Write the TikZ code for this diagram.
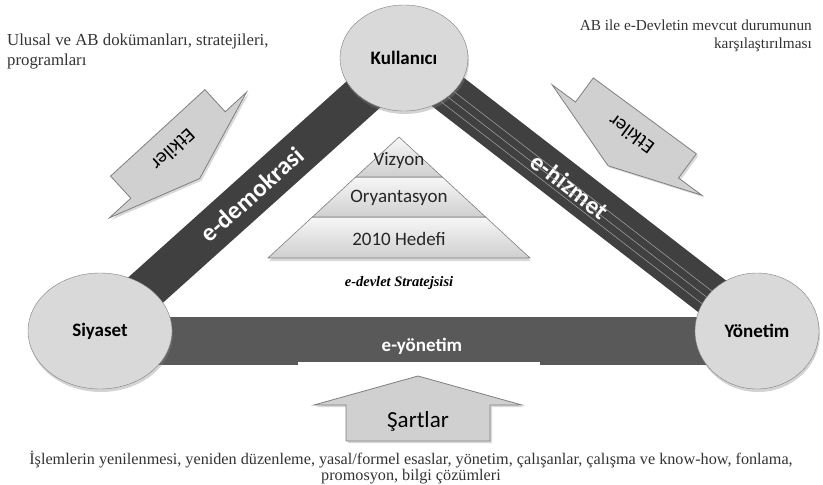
\documentclass[tikz,border=0pt]{standalone}
\usepackage{fontspec}
\setmainfont{Liberation Serif}
\newfontfamily\calibri{Carlito}
\usetikzlibrary{%
  backgrounds,
  calc,
  shadows,
  shapes.geometric
}
\definecolor{elipsgri}{HTML}{D9D9D9}
\definecolor{kenargri}{HTML}{7F7F7F}
\definecolor{koyugri}{HTML}{404040}
\definecolor{ortagri}{HTML}{595959}
\definecolor{okgri}{HTML}{D0D0D0}

\tikzset{
  elips/.style={ellipse, draw=kenargri, fill=elipsgri, inner sep=0pt,
    font=\calibri\bfseries\fontsize{19}{21}\selectfont,
    drop shadow={opacity=0.35, shadow xshift=1pt, shadow yshift=-3pt}},
  serit/.style={line width=42pt, draw=koyugri},
  seritYazi/.style={text=white, inner sep=0pt,
    font=\calibri\bfseries\fontsize{25}{28}\selectfont},
  okstil/.style={fill=okgri, draw=kenargri, line width=0.8pt,
    drop shadow={opacity=0.3, shadow xshift=2pt, shadow yshift=-2pt}},
  okyazi/.style={inner sep=0pt, font=\calibri\fontsize{20}{22}\selectfont},
  katman/.style={draw=kenargri, line width=0.6pt, top color=gray!6,
    bottom color=gray!38},
  piramitYazi/.style={inner sep=0pt, text=black!85,
    font=\calibri\fontsize{19}{21}\selectfont},
  metin/.style={inner sep=0pt, text=black!80,
    font=\fontsize{15.5}{20}\selectfont},
}

\newcommand{\blokok}[4]{%
  \pgfmathsetmacro{\kanat}{#1}
  \pgfmathsetmacro{\govde}{#2}
  \pgfmathsetmacro{\bas}{#3}
  \pgfmathsetmacro{\boy}{#4}
  \draw [okstil]
        (0,-\bas) -- (\kanat,0) -- (\govde,0) -- (\govde,\boy)
        -- (-\govde,\boy) -- (-\govde,0) -- (-\kanat,0) -- cycle ;
}

\begin{document}
\begin{tikzpicture}[
  x=1pt,
  y=-1pt,
  thin,
]
  \useasboundingbox (0,0) rectangle (823,485) ;

  % les trois acteurs
  \node [elips, minimum width=128pt, minimum height=106pt]
        (kullanici) at (404,58) {Kullanıcı} ;
  \node [elips, minimum width=144pt, minimum height=116pt]
        (siyaset) at (100,331) {Siyaset} ;
  \node [elips, minimum width=124pt, minimum height=116pt]
        (yonetim) at (757,331) {Yönetim} ;

  % bandes
  \begin{scope}[on background layer]
    \draw [serit] (siyaset.center) -- (kullanici.center)
          node [midway, sloped, seritYazi] (edemokrasi) {e-demokrasi} ;
    \draw [serit] (kullanici.center) -- (yonetim.center)
          node [pos=0.47, sloped, seritYazi] (ehizmet) {e-hizmet} ;
    \foreach \k in {-12,-4,4} {
      \draw [gray!70, line width=0.5pt]
            ($(kullanici.center)!\k pt!90:(yonetim.center)$) --
            ($(yonetim.center)!\k pt!-90:(kullanici.center)$) ;
    }
    \draw [serit, draw=ortagri, line width=48pt]
          ($(siyaset.center)+(0,10)$) -- ($(yonetim.center)+(0,10)$)
          node [pos=0.49, yshift=-5pt, seritYazi, font=\calibri\bfseries\fontsize{19}{21}\selectfont]
          (eyonetim) {e-yönetim} ;
  \end{scope}
  \fill [white] (298,362) rectangle (540,372) ;

  % pyramide
  \path [katman, drop shadow={opacity=0.3, shadow xshift=1pt, shadow yshift=-3pt}]
        (312.4,217) -- (485.6,217) -- (530,258) -- (268,258) -- cycle ;
  \path [katman]
        (355.7,177) -- (442.3,177) -- (485.6,217) -- (312.4,217) -- cycle ;
  \path [katman]
        (399,137) -- (442.3,177) -- (355.7,177) -- cycle ;
  \node [piramitYazi] (vizyon) at (399,160) {Vizyon} ;
  \node [piramitYazi] (oryantasyon) at (399,198) {Oryantasyon} ;
  \node [piramitYazi] (hedef) at (399,239) {2010 Hedefi} ;
  \node [metin, text=black, font=\bfseries\itshape\fontsize{14.5}{16}\selectfont]
        (strateji) at (399,283) {e-devlet Stratejsisi} ;

  % fleches
  \begin{scope}[shift={(178,155)}, rotate=-137.5, transform shape]
    \blokok{93}{64}{32}{30}
    \node [okyazi] (etkilersol) at (0,7) {Etkiler} ;
  \end{scope}
  \begin{scope}[shift={(627,140)}, rotate=143.6, transform shape]
    \blokok{93}{64}{32}{30}
    \node [okyazi] (etkilersag) at (0,7) {Etkiler} ;
  \end{scope}
  \begin{scope}[shift={(418,405)}]
    \blokok{104}{72}{29}{36}
    \node [okyazi, font=\calibri\fontsize{23}{25}\selectfont]
          (sartlar) at (0,16) {Şartlar} ;
  \end{scope}

  % textes
  \node [metin, anchor=north west, align=left,
         font=\fontsize{16.8}{20}\selectfont] (ulusal) at (7,34)
        {Ulusal ve AB dokümanları, stratejileri,\\programları} ;
  \node [metin, anchor=north east, align=right,
         font=\fontsize{15.3}{18}\selectfont] (ab) at (812,20)
        {AB ile e-Devletin mevcut durumunun\\karşılaştırılması} ;
  \node [metin, anchor=north, align=center,
         font=\fontsize{16.2}{16}\selectfont] (islemler) at (411,451)
        {İşlemlerin yenilenmesi, yeniden düzenleme, yasal/formel esaslar, yönetim, çalışanlar, çalışma ve know-how, fonlama,\\promosyon, bilgi çözümleri} ;
\end{tikzpicture}
\end{document}
